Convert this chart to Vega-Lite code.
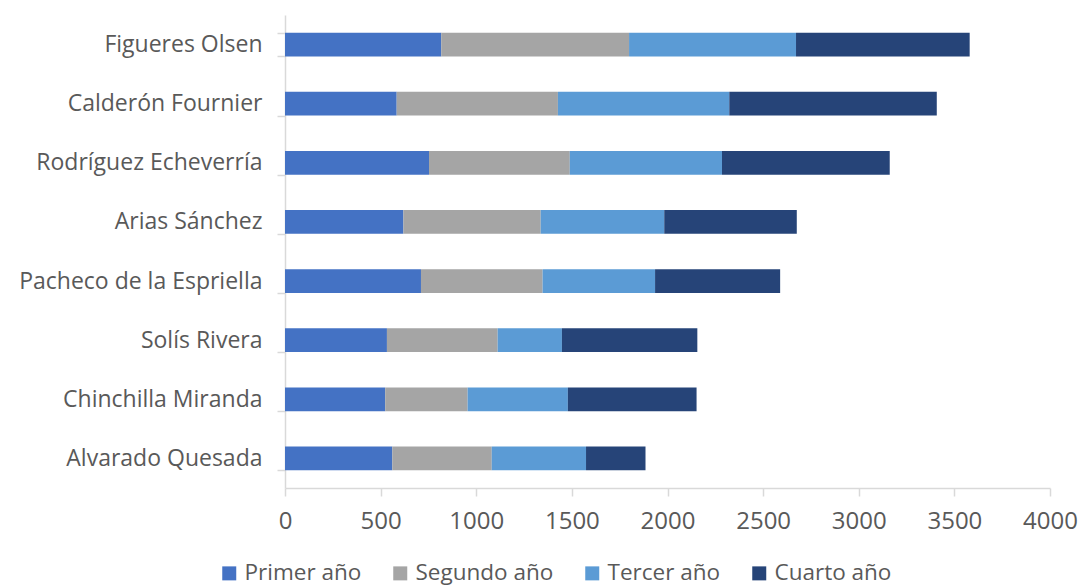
{
  "$schema": "https://vega.github.io/schema/vega-lite/v6.json",
  "autosize": {"type": "none"},
  "width": 765,
  "height": 473,
  "padding": {"left": 285, "top": 15, "right": 31, "bottom": 98},
  "background": "white",
  "config": {
    "view": {"stroke": null},
    "font": "Open Sans",
    "axis": {
      "labelFont": "Open Sans",
      "labelColor": "#595959",
      "labelFontSize": 23,
      "domainColor": "#d9d9d9",
      "domainWidth": 1.5,
      "tickColor": "#d9d9d9",
      "tickWidth": 1.5,
      "grid": false,
      "title": null
    },
    "legend": {
      "labelFont": "Open Sans",
      "labelColor": "#595959",
      "labelFontSize": 22.5
    }
  },
  "data": {
    "values": [
      {"presidente": "Figueres Olsen\u00a0", "serie": "Primer año", "valor": 817},
      {"presidente": "Figueres Olsen\u00a0", "serie": "Segundo año", "valor": 982},
      {"presidente": "Figueres Olsen\u00a0", "serie": "Tercer año", "valor": 873},
      {"presidente": "Figueres Olsen\u00a0", "serie": "Cuarto año", "valor": 908},
      {"presidente": "Calderón Fournier", "serie": "Primer año", "valor": 584},
      {"presidente": "Calderón Fournier", "serie": "Segundo año", "valor": 843},
      {"presidente": "Calderón Fournier", "serie": "Tercer año", "valor": 896},
      {"presidente": "Calderón Fournier", "serie": "Cuarto año", "valor": 1085},
      {"presidente": "Rodríguez Echeverría", "serie": "Primer año", "valor": 753},
      {"presidente": "Rodríguez Echeverría", "serie": "Segundo año", "valor": 736},
      {"presidente": "Rodríguez Echeverría", "serie": "Tercer año", "valor": 796},
      {"presidente": "Rodríguez Echeverría", "serie": "Cuarto año", "valor": 877},
      {"presidente": "Arias Sánchez", "serie": "Primer año", "valor": 619},
      {"presidente": "Arias Sánchez", "serie": "Segundo año", "valor": 718},
      {"presidente": "Arias Sánchez", "serie": "Tercer año", "valor": 646},
      {"presidente": "Arias Sánchez", "serie": "Cuarto año", "valor": 693},
      {"presidente": "Pacheco de la Espriella", "serie": "Primer año", "valor": 711},
      {"presidente": "Pacheco de la Espriella", "serie": "Segundo año", "valor": 636},
      {"presidente": "Pacheco de la Espriella", "serie": "Tercer año", "valor": 588},
      {"presidente": "Pacheco de la Espriella", "serie": "Cuarto año", "valor": 654},
      {"presidente": "Solís Rivera", "serie": "Primer año", "valor": 533},
      {"presidente": "Solís Rivera", "serie": "Segundo año", "valor": 579},
      {"presidente": "Solís Rivera", "serie": "Tercer año", "valor": 336},
      {"presidente": "Solís Rivera", "serie": "Cuarto año", "valor": 708},
      {"presidente": "Chinchilla Miranda", "serie": "Primer año", "valor": 524},
      {"presidente": "Chinchilla Miranda", "serie": "Segundo año", "valor": 431},
      {"presidente": "Chinchilla Miranda", "serie": "Tercer año", "valor": 524},
      {"presidente": "Chinchilla Miranda", "serie": "Cuarto año", "valor": 673},
      {"presidente": "Alvarado Quesada", "serie": "Primer año", "valor": 561},
      {"presidente": "Alvarado Quesada", "serie": "Segundo año", "valor": 520},
      {"presidente": "Alvarado Quesada", "serie": "Tercer año", "valor": 493},
      {"presidente": "Alvarado Quesada", "serie": "Cuarto año", "valor": 311}
    ]
  },
  "transform": [
    {"calculate": "indexof(['Primer año', 'Segundo año', 'Tercer año', 'Cuarto año'], datum.serie)", "as": "orden"}
  ],
  "mark": {"type": "bar"},
  "encoding": {
    "y": {
      "field": "presidente",
      "type": "nominal",
      "sort": ["Figueres Olsen\u00a0", "Calderón Fournier", "Rodríguez Echeverría", "Arias Sánchez", "Pacheco de la Espriella", "Solís Rivera", "Chinchilla Miranda", "Alvarado Quesada"],
      "scale": {"paddingInner": 0.6, "paddingOuter": 0.3},
      "axis": {"tickBand": "extent", "tickSize": 8, "labelPadding": 15, "labelLimit": 400}
    },
    "x": {
      "field": "valor",
      "type": "quantitative",
      "aggregate": "sum",
      "stack": "zero",
      "scale": {"domain": [0, 4000], "nice": false},
      "axis": {"values": [0, 500, 1000, 1500, 2000, 2500, 3000, 3500, 4000], "format": "d", "labelFontSize": 24, "tickSize": 8, "labelPadding": 13, "labelFlush": false, "labelOverlap": false}
    },
    "color": {
      "field": "serie",
      "type": "nominal",
      "sort": ["Primer año", "Segundo año", "Tercer año", "Cuarto año"],
      "scale": {
        "domain": ["Primer año", "Segundo año", "Tercer año", "Cuarto año"],
        "range": ["#4472c4", "#a5a5a5", "#5b9bd5", "#264478"]
      },
      "legend": {
        "title": null,
        "orient": "none",
        "direction": "horizontal",
        "legendX": -67,
        "legendY": 547,
        "symbolType": "square",
        "symbolSize": 196,
        "symbolStrokeWidth": 0,
        "symbolOpacity": 1,
        "labelOffset": 4,
        "columnPadding": 27
      }
    },
    "order": {"field": "orden", "type": "quantitative"}
  }
}
